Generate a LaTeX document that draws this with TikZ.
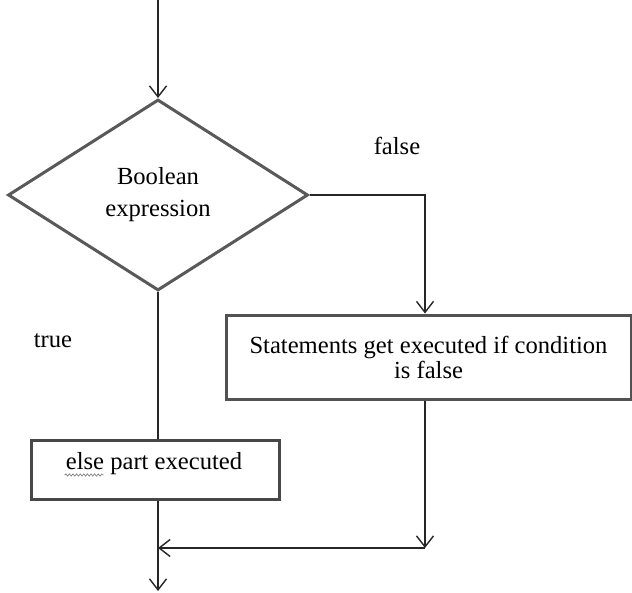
\documentclass[tikz,border=0pt]{standalone}
\usepackage{fontspec}
\setmainfont{Liberation Serif}
\usetikzlibrary{shapes.geometric,arrows.meta,decorations.pathmorphing}

\begin{document}
\begin{tikzpicture}[x=1pt,y=-1pt,
  every node/.style={font=\fontsize{24.6}{27}\selectfont},
  conn/.style={line width=1.4pt, draw=black!85},
  arr/.style={conn, -{Straight Barb[length=11pt,width=17pt,line width=1.4pt]}},
  decision/.style={diamond, draw=black!65, line width=3pt, inner sep=0pt,
    minimum width=300pt, minimum height=191pt, align=center},
  procbox/.style={rectangle, draw=black!68, line width=3pt, align=center, inner sep=0pt},
  lbl/.style={inner sep=0pt}]

  % canvas
  \fill[white] (0,0) rectangle (632,592);
  \useasboundingbox (0,0) rectangle (632,592);

  % shapes
  \node[decision] (cond) at (158,195) {Boolean\\[5pt]expression};
  \node[procbox, minimum width=405pt, minimum height=84pt] (fbox) at (428.5,357)
    {Statements get executed if condition\\[-2pt]is false};
  \node[procbox, draw=black!72, minimum width=248pt, minimum height=59pt] (tbox) at (155,469.5) {};
  \node[lbl] (ttext) at (154,464) {else part executed};

  % branch labels
  \node[lbl] (flabel) at (397,146) {false};
  \node[lbl] (tlabel) at (53,341) {true};

  % connector end points
  \coordinate (start) at (158,0);
  \coordinate (join) at (158,548);
  \coordinate (finish) at (158,591);
  \coordinate (fin) at ([xshift=-3.5pt]fbox.north);
  \coordinate (fout) at ([xshift=-3.5pt]fbox.south);
  \coordinate (fcorner) at (fout |- join);
  \coordinate (tin) at ([xshift=3pt]tbox.north);
  \coordinate (tout) at ([xshift=3pt]tbox.south);

  % connectors
  \draw[arr] (start) -- (cond.north);
  \draw[arr] (cond.east) -| (fin);
  \draw[conn] (cond.south) -- (tin);
  \draw[arr] (fout) -- (fcorner);
  \draw[arr] (fcorner) -- (join);
  \draw[arr] (tout) -- (finish);

  % spelling squiggle under "else"
  \draw[black!45, line width=0.8pt, decorate,
    decoration={snake, amplitude=1.1pt, segment length=3.6pt}]
    ([xshift=-1pt,yshift=-11pt]ttext.west) -- ([xshift=38pt,yshift=-11pt]ttext.west);
\end{tikzpicture}
\end{document}
